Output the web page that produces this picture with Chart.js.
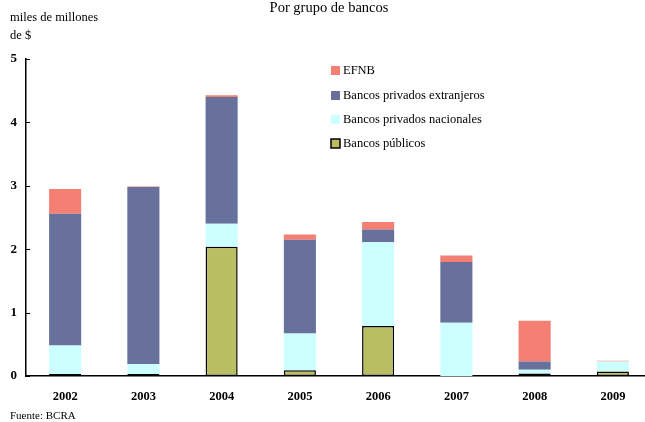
<!DOCTYPE html>
<html>
<head>
<meta charset="utf-8">
<script src="https://cdn.jsdelivr.net/npm/chart.js@4"></script>
<style>
  html, body { margin: 0; padding: 0; overflow: hidden; background: #fff; }
</style>
</head>
<body>
<canvas id="grafico" width="652" height="422"></canvas>
<script>
// Datos (miles de millones de $)
const anios = ['2002', '2003', '2004', '2005', '2006', '2007', '2008', '2009'];
const publicos = [0.03, 0.03, 2.04, 0.09, 0.79, 0.00, 0.04, 0.07];
const nacionales = [0.45, 0.16, 0.36, 0.58, 1.32, 0.84, 0.06, 0.16];
const extranjeros = [2.08, 2.79, 2.00, 1.48, 0.20, 0.96, 0.13, 0.00];
const efnb = [0.39, 0.01, 0.03, 0.08, 0.12, 0.10, 0.64, 0.01];
const ticksY = [0, 1, 2, 3, 4, 5];

const serif = '"Liberation Serif", "DejaVu Serif", serif';

const colores = {
    efnb: '#F57F72',
    extranjeros: '#67719C',
    nacionales: '#CCFFFF',
    publicos: '#BABE62',
};

// textos y leyenda dibujados a mano
const textosPlugin = {
    id: 'textos',
    afterDraw(chart) {
        const ctx = chart.ctx;
        const y = chart.scales.y;
        const area = chart.chartArea;
        ctx.save();

        // marcas del eje Y hacia adentro
        ctx.strokeStyle = '#000';
        ctx.lineWidth = 1;
        ticksY.forEach(v => {
            const py = Math.round(y.getPixelForValue(v)) + 0.5;
            ctx.beginPath();
            ctx.moveTo(area.left, py);
            ctx.lineTo(area.left + 4, py);
            ctx.stroke();
        });

        ctx.fillStyle = '#000';
        ctx.textBaseline = 'middle';
        ctx.textAlign = 'center';
        ctx.font = '14.5px ' + serif;
        ctx.fillText('Por grupo de bancos', 329, 8);

        ctx.textAlign = 'left';
        ctx.font = '12.5px ' + serif;
        ctx.fillText('miles de millones', 10, 18);
        ctx.fillText('de $', 10, 36);

        ctx.font = '11px ' + serif;
        ctx.fillText('Fuente: BCRA', 10, 416);

        // leyenda
        const items = [
            { texto: 'EFNB', color: colores.efnb, y: 71 },
            { texto: 'Bancos privados extranjeros', color: colores.extranjeros, y: 96 },
            { texto: 'Bancos privados nacionales', color: colores.nacionales, y: 120 },
            { texto: 'Bancos públicos', color: colores.publicos, y: 144, borde: true },
        ];
        ctx.font = '12.5px ' + serif;
        items.forEach(it => {
            ctx.fillStyle = it.color;
            ctx.fillRect(331, it.y - 5, 9, 9);
            if (it.borde) {
                ctx.strokeStyle = '#000';
                ctx.lineWidth = 1.5;
                ctx.strokeRect(331, it.y - 5, 9, 9);
            }
            ctx.fillStyle = '#000';
            ctx.fillText(it.texto, 343, it.y);
        });
        ctx.restore();
    },
};

new Chart(document.getElementById('grafico'), {
    type: 'bar',
    data: {
        labels: anios,
        datasets: [
            {
                label: 'Bancos públicos',
                data: publicos,
                backgroundColor: colores.publicos,
                borderColor: '#000',
                borderWidth: 1.5,
                borderSkipped: false,
            },
            {
                label: 'Bancos privados nacionales',
                data: nacionales,
                backgroundColor: colores.nacionales,
                borderWidth: 0,
            },
            {
                label: 'Bancos privados extranjeros',
                data: extranjeros,
                backgroundColor: colores.extranjeros,
                borderWidth: 0,
            },
            {
                label: 'EFNB',
                data: efnb,
                backgroundColor: colores.efnb,
                borderWidth: 0,
            },
        ],
    },
    options: {
        responsive: false,
        animation: false,
        categoryPercentage: 1,
        barPercentage: 0.41,
        layout: { padding: { top: 59, left: 0, right: 0, bottom: 0 } },
        scales: {
            x: {
                stacked: true,
                grid: { display: false, drawTicks: false },
                border: { color: '#000', width: 1.5 },
                ticks: {
                    color: '#000',
                    padding: 13,
                    font: { family: serif, size: 12.5, weight: 'bold' },
                },
                afterFit: scale => { scale.height = 46; },
            },
            y: {
                stacked: true,
                min: 0,
                max: 5,
                grid: { display: false, drawTicks: false },
                border: { color: '#000', width: 1.5 },
                ticks: {
                    color: '#000',
                    padding: 9,
                    stepSize: 1,
                    font: { family: serif, size: 13, weight: 'bold' },
                },
                afterFit: scale => { scale.width = 26; },
            },
        },
        plugins: {
            legend: { display: false },
            title: { display: false },
            tooltip: { enabled: false },
        },
    },
    plugins: [textosPlugin],
});
</script>
</body>
</html>
